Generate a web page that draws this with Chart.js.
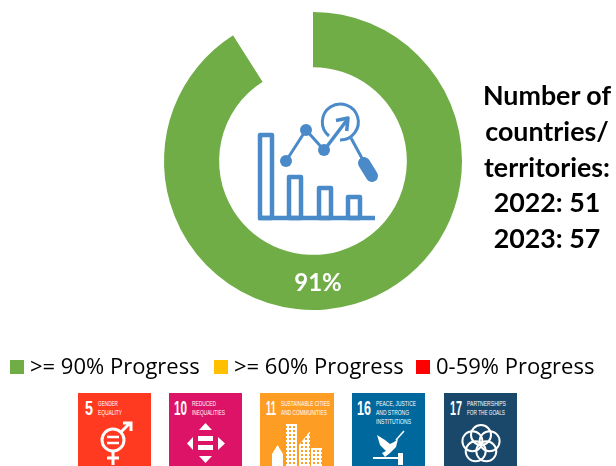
<!DOCTYPE html>
<html>
<head>
<meta charset="utf-8">
<script src="https://cdn.jsdelivr.net/npm/chart.js@4"></script>
<style>
  html, body { margin: 0; padding: 0; background: #fff; overflow: hidden; }
  #wrap { position: relative; width: 616px; height: 466px; }
  #wrap canvas { position: absolute; left: 0; top: 0; }
  #icon { position: absolute; left: 0; top: 0; }
  #note { position: absolute; left: 470px; top: 78px; width: 154px; text-align: center;
    font: bold 26.8px/35.8px Lato, sans-serif; color: #000; }
  #legend { position: absolute; left: 10px; top: 350px; white-space: nowrap;
    font: 22px "Open Sans", sans-serif; color: #000; line-height: 30px; }
  #legend i { display: inline-block; width: 14px; height: 14px; margin-right: 6px; }
  #legend span { position: absolute; top: 0; }
  #goals { position: absolute; left: 0; top: 393px; }
</style>
</head>
<body>
<div id="wrap">
  <canvas id="myChart" width="616" height="466"></canvas>

  <svg id="icon" width="616" height="466" fill="none" stroke="#4a8ac9" stroke-width="4.5" stroke-linejoin="round">
    <rect x="260" y="135" width="12" height="83"/>
    <rect x="289" y="177" width="12" height="41"/>
    <rect x="319" y="188" width="12" height="30"/>
    <rect x="348" y="197" width="12" height="21"/>
    <path d="M258 218H375"/>
    <path d="M286 161L306 130L324 150" stroke-width="3"/>
    <path d="M325 149L347 120" stroke-width="3.5"/>
    <g fill="#4a8ac9" stroke="none">
      <circle cx="286" cy="161" r="6"/>
      <circle cx="306" cy="130" r="6"/>
      <circle cx="324" cy="150" r="6"/>
    </g>
    <path d="M336 120.5L348 118L346.7 131" stroke-width="3.5"/>
    <path d="M329 136A18 18 0 1 1 340 140" stroke-width="3"/>
    <path d="M351 138L364 162" stroke-width="3"/>
    <path d="M364 163L372 176" stroke-width="12" stroke-linecap="round"/>
  </svg>

  <div id="note"></div>
  <div id="legend"></div>

  <svg id="goals" width="616" height="73" font-family="'Liberation Sans Narrow','Liberation Sans',sans-serif" fill="#fff">
    <defs>
      <pattern id="win" width="4" height="4" patternUnits="userSpaceOnUse">
        <rect width="4" height="4" fill="#fff"/>
        <rect x="1" y="1" width="2" height="2" fill="#fd9d24"/>
      </pattern>
    </defs>
    <g transform="translate(78 0)">
      <rect width="73" height="73" fill="#ff3a21"/>
      <text x="7" y="22" font-size="20" font-weight="bold" textLength="8" lengthAdjust="spacingAndGlyphs">5</text>
      <text x="20" y="13" font-size="8" textLength="20" lengthAdjust="spacingAndGlyphs">GENDER</text>
      <text x="20" y="22" font-size="8" textLength="24" lengthAdjust="spacingAndGlyphs">EQUALITY</text>
      <g fill="none" stroke="#fff" stroke-width="3">
        <circle cx="35" cy="47" r="11"/>
        <path d="M35 58V72M29 65H41M43 39L52 30M45 30H53V38"/>
        <path d="M29 44H41M29 50H41" stroke-width="2.5"/>
      </g>
    </g>
    <g transform="translate(169 0)">
      <rect width="73" height="73" fill="#dd1367"/>
      <text x="5" y="22" font-size="20" font-weight="bold" textLength="13" lengthAdjust="spacingAndGlyphs">10</text>
      <text x="23" y="13" font-size="8" textLength="24" lengthAdjust="spacingAndGlyphs">REDUCED</text>
      <text x="23" y="22" font-size="8" textLength="33" lengthAdjust="spacingAndGlyphs">INEQUALITIES</text>
      <path d="M30 37L36.5 30L43 37ZM30 63L36.5 70L43 63ZM24 44L18 50.5L24 57ZM49 44L56 50.5L49 57Z"/>
      <rect x="29" y="43" width="15" height="5"/>
      <rect x="29" y="52" width="15" height="5"/>
    </g>
    <g transform="translate(260 0)">
      <rect width="74" height="73" fill="#fd9d24"/>
      <text x="6" y="22" font-size="20" font-weight="bold" textLength="10" lengthAdjust="spacingAndGlyphs">11</text>
      <text x="21" y="13" font-size="8" textLength="49" lengthAdjust="spacingAndGlyphs">SUSTAINABLE CITIES</text>
      <text x="21" y="22" font-size="8" textLength="46" lengthAdjust="spacingAndGlyphs">AND COMMUNITIES</text>
      <path d="M12 73V61L17.5 52L23 61V73Z"/>
      <rect x="26" y="31" width="11" height="42" fill="url(#win)"/>
      <path d="M39 73V52L50 38V73Z" fill="url(#win)"/>
      <rect x="51" y="55" width="11" height="18" fill="url(#win)"/>
    </g>
    <g transform="translate(352 0)">
      <rect width="73" height="73" fill="#00689d"/>
      <text x="5" y="22" font-size="20" font-weight="bold" textLength="14" lengthAdjust="spacingAndGlyphs">16</text>
      <text x="24" y="13" font-size="8" textLength="40" lengthAdjust="spacingAndGlyphs">PEACE, JUSTICE</text>
      <text x="24" y="22" font-size="8" textLength="33" lengthAdjust="spacingAndGlyphs">AND STRONG</text>
      <text x="24" y="31" font-size="8" textLength="35" lengthAdjust="spacingAndGlyphs">INSTITUTIONS</text>
      <path d="M25 42L33 47L38 51L42 49L46 46L44 54L38 60L33 64L30 60L34 58L28 52Z"/>
      <path d="M44 47L52 38" stroke="#fff" stroke-width="1.5"/>
      <rect x="21" y="64" width="25" height="2"/>
      <rect x="46" y="60" width="5" height="12"/>
    </g>
    <g transform="translate(444 0)">
      <rect width="73" height="73" fill="#19486a"/>
      <text x="6" y="22" font-size="20" font-weight="bold" textLength="12" lengthAdjust="spacingAndGlyphs">17</text>
      <text x="23" y="13" font-size="8" textLength="39" lengthAdjust="spacingAndGlyphs">PARTNERSHIPS</text>
      <text x="23" y="22" font-size="8" textLength="38" lengthAdjust="spacingAndGlyphs">FOR THE GOALS</text>
      <g fill="none" stroke="#fff" stroke-width="2">
        <circle cx="37" cy="42" r="10"/>
        <circle cx="45.6" cy="48.2" r="10"/>
        <circle cx="42.3" cy="58.3" r="10"/>
        <circle cx="31.7" cy="58.3" r="10"/>
        <circle cx="28.4" cy="48.2" r="10"/>
      </g>
    </g>
  </svg>
</div>

<script>
// values
const categories = ["Progress", "Remaining"];
const progressValues = [91, 9];
const sliceColors = ["#70ad47", "#ffffff"];

const noteLines = ["Number of", "countries/", "territories:", "2022: 51", "2023: 57"];
const legendLabels = [">= 90% Progress", ">= 60% Progress", "0-59% Progress"];
const legendColors = ["#70ad47", "#ffc000", "#ff0000"];
const legendLefts = [0, 204, 406];

document.getElementById("note").innerHTML = noteLines.join("<br>");

document.getElementById("legend").innerHTML = legendLabels.map(function (label, i) {
  return '<span style="left:' + legendLefts[i] + 'px"><i style="background:' + legendColors[i] + '"></i>' + label + '</span>';
}).join("");

// writes the percentage inside the green ring
const sliceLabel = {
  id: "sliceLabel",
  afterDatasetsDraw(chart) {
    const arc = chart.getDatasetMeta(0).data[0];
    const ctx = chart.ctx;
    ctx.save();
    ctx.font = "bold 24px Lato, sans-serif";
    ctx.fillStyle = "#ffffff";
    ctx.textAlign = "center";
    ctx.textBaseline = "middle";
    ctx.fillText(progressValues[0] + "%", arc.x + 5, arc.y + 122);
    ctx.restore();
  }
};

new Chart(document.getElementById("myChart"), {
  type: "doughnut",
  data: {
    labels: categories,
    datasets: [{
      data: progressValues,
      backgroundColor: sliceColors,
      borderWidth: 0
    }]
  },
  options: {
    responsive: false,
    animation: false,
    cutout: "63%",
    layout: { padding: { left: 164, right: 154, top: 12, bottom: 156 } },
    plugins: {
      legend: { display: false },
      tooltip: { enabled: false }
    }
  },
  plugins: [sliceLabel]
});
</script>
</body>
</html>
